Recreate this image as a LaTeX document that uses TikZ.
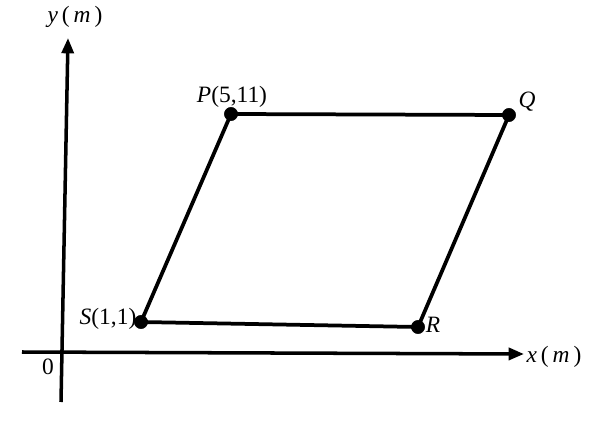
\documentclass[tikz,border=0pt]{standalone}
\usepackage{fontspec}
\setmainfont{Liberation Serif}
\usetikzlibrary{arrows.meta}

\begin{document}
\begin{tikzpicture}[x=0.3mm,y=-0.3mm]
\tikzset{
dot/.style={draw,shape=circle,fill=black,inner sep=0pt,minimum size=4mm},
lbl/.style={font=\fontsize{20}{22}\selectfont,inner sep=0pt},
edge/.style={line width=3.2pt,line join=round},
axis/.style={line width=3pt,-{Triangle[length=4.6mm,width=3.6mm]}}
}
	\useasboundingbox (0,0) rectangle (597,421);

	% corners of the field
	\node[dot] at (231,114) (P) {};
	\node[dot] at (509,115) (Q) {};
	\node[dot] at (418,327) (R) {};
	\node[dot] at (141,322) (S) {};

	\node[lbl] at (232,97) (Plab) {\textit{P}(5,11)};
	\node[lbl] at (527,102) (Qlab) {\textit{Q}};
	\node[lbl] at (433,325) (Rlab) {\textit{R}};
	\node[lbl] at (108,319) (Slab) {\textit{S}(1,1)};

	% axes
	\coordinate (xstart) at (22,352);
	\coordinate (xend) at (524,354);
	\coordinate (ystart) at (61,402);
	\coordinate (yend) at (68,38);
	\node[lbl] at (554,357) (xlab) {\textit{x}\,(\,\textit{m}\,)};
	\node[lbl] at (75,17) (ylab) {\textit{y}\,(\,\textit{m}\,)};
	\node[lbl] at (48,367) (O) {0};

	\draw[axis] (xstart) -- (xend);
	\draw[axis] (ystart) -- (yend);

	\draw[edge] (S.center) -- (P.center) -- (Q.center) -- (R.center) -- (S.center);

\end{tikzpicture}
\end{document}
